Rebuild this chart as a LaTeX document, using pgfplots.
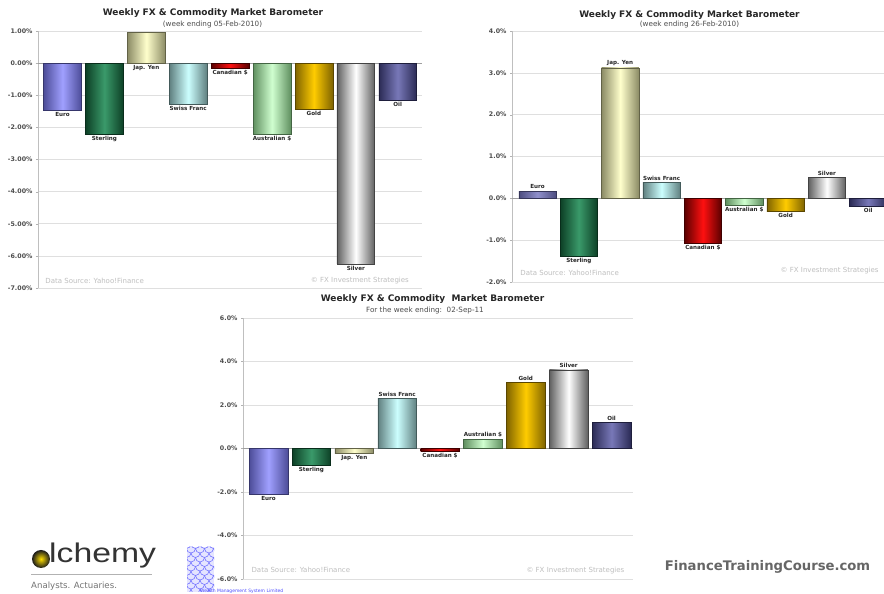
\documentclass[border=0pt]{standalone}
\usepackage{fontspec}
\setmainfont{DejaVu Sans}
\newfontfamily\libsans{Liberation Sans}
\usepackage{graphicx}
\usepackage{pgfplots}
\pgfplotsset{compat=1.18}

\definecolor{eurD}{HTML}{4D4D99}\definecolor{eurL}{HTML}{A0A0FF}
\definecolor{eur2D}{HTML}{4D4D80}\definecolor{eur2L}{HTML}{9090CC}
\definecolor{stgD}{HTML}{0D4026}\definecolor{stgL}{HTML}{3A9A6A}
\definecolor{yenD}{HTML}{8C8C66}\definecolor{yenL}{HTML}{FFFFCC}
\definecolor{chfD}{HTML}{608080}\definecolor{chfL}{HTML}{CCFFFF}
\definecolor{cadD}{HTML}{5A0000}\definecolor{cadL}{HTML}{FF1010}
\definecolor{audD}{HTML}{609060}\definecolor{audL}{HTML}{D0FFD0}
\definecolor{gldD}{HTML}{806400}\definecolor{gldL}{HTML}{FFCC00}
\definecolor{slvD}{HTML}{606060}\definecolor{slvL}{HTML}{FFFFFF}
\definecolor{oilD}{HTML}{2B2B55}\definecolor{oilL}{HTML}{7878B8}

% #1 dark colour, #2 light colour, #3 x, #4 value, #5 label
\newcommand{\cbar}[5]{%
\addplot[ybar, bar width=0.9, bar shift=0pt, draw=#1!70!black, line width=0.4pt,
  left color=#1, right color=#1, middle color=#2,
  nodes near coords={#5}] coordinates {(#3,#4)};}

\pgfplotsset{baro/.style={
  scale only axis, anchor=south west,
  axis y line*=left, axis x line=none,
  xtick=\empty,
  ymajorgrids, major grid style={gray!25, line width=0.5pt},
  tick align=outside, major tick length=2pt,
  y axis line style={gray!50},
  ytick style={gray!60},
  yticklabel style={font=\bfseries\fontsize{6.3}{7}\selectfont, text=black!70},
  extra y ticks={0}, extra y tick labels={},
  extra y tick style={grid=major, major grid style={gray!75, line width=0.6pt}},
  every node near coord/.append style={font=\bfseries\fontsize{5.6}{6.5}\selectfont, text=black!85, inner sep=2pt},
  clip=true,
}}

\begin{document}
\begin{tikzpicture}
\useasboundingbox (0,0) rectangle (884pt,594pt);
\fill[white] (0,0) rectangle (884pt,594pt);

% ---------------- Chart 1 ----------------
\begin{axis}[baro, at={(38pt,306pt)}, width=384pt, height=257pt,
  xmin=-0.585, xmax=8.58, ymin=-7, ymax=1,
  ytick={-7,-6,-5,-4,-3,-2,-1,0,1},
  yticklabels={-7.00\%,-6.00\%,-5.00\%,-4.00\%,-3.00\%,-2.00\%,-1.00\%,0.00\%,1.00\%}]
\cbar{eurD}{eurL}{0}{-1.47}{Euro}
\cbar{stgD}{stgL}{1}{-2.22}{Sterling}
\addplot[ybar, bar width=0.9, bar shift=0pt, draw=yenD!70!black, line width=0.4pt,
  left color=yenD, right color=yenD, middle color=yenL] coordinates {(2,0.96)};
\addplot[ybar, bar width=0.9, bar shift=0pt, draw=none, fill=none,
  nodes near coords={Jap. Yen}, nodes near coords align={below}] coordinates {(2,0)};
\cbar{chfD}{chfL}{3}{-1.28}{Swiss Franc}
\cbar{cadD}{cadL}{4}{-0.15}{Canadian \$}
\cbar{audD}{audL}{5}{-2.22}{Australian \$}
\cbar{gldD}{gldL}{6}{-1.44}{Gold}
\cbar{slvD}{slvL}{7}{-6.25}{Silver}
\cbar{oilD}{oilL}{8}{-1.16}{Oil}
\node[anchor=west, font=\fontsize{7}{8}\selectfont, text=gray!50] at (rel axis cs:0.01,0.027) {Data Source: Yahoo!Finance};
\node[anchor=east, font=\fontsize{7}{8}\selectfont, text=gray!50] at (rel axis cs:0.975,0.027) {\textcopyright\ FX Investment Strategies};
\end{axis}

% ---------------- Chart 2 ----------------
\begin{axis}[baro, at={(512pt,312pt)}, width=372pt, height=251pt,
  xmin=-0.617, xmax=8.38, ymin=-2, ymax=4,
  ytick={-2,-1,0,1,2,3,4},
  yticklabels={-2.0\%,-1.0\%,0.0\%,1.0\%,2.0\%,3.0\%,4.0\%}]
\cbar{eur2D}{eur2L}{0}{0.17}{Euro}
\cbar{stgD}{stgL}{1}{-1.38}{Sterling}
\cbar{yenD}{yenL}{2}{3.12}{Jap. Yen}
\cbar{chfD}{chfL}{3}{0.38}{Swiss Franc}
\cbar{cadD}{cadL}{4}{-1.08}{Canadian \$}
\cbar{audD}{audL}{5}{-0.17}{Australian \$}
\cbar{gldD}{gldL}{6}{-0.31}{Gold}
\cbar{slvD}{slvL}{7}{0.50}{Silver}
\cbar{oilD}{oilL}{8}{-0.19}{Oil}
\node[anchor=west, font=\fontsize{7}{8}\selectfont, text=gray!50] at (rel axis cs:0.013,0.036) {Data Source: Yahoo!Finance};
\node[anchor=east, font=\fontsize{7}{8}\selectfont, text=gray!50] at (rel axis cs:0.995,0.044) {\textcopyright\ FX Investment Strategies};
\end{axis}

% ---------------- Chart 3 ----------------
\begin{axis}[baro, at={(243pt,15pt)}, width=390pt, height=261pt,
  xmin=-0.595, xmax=8.5, ymin=-6, ymax=6,
  ytick={-6,-4,-2,0,2,4,6},
  yticklabels={-6.0\%,-4.0\%,-2.0\%,0.0\%,2.0\%,4.0\%,6.0\%}]
\cbar{eurD}{eurL}{0}{-2.10}{Euro}
\cbar{stgD}{stgL}{1}{-0.78}{Sterling}
\cbar{yenD}{yenL}{2}{-0.23}{Jap. Yen}
\cbar{chfD}{chfL}{3}{2.30}{Swiss Franc}
\cbar{cadD}{cadL}{4}{-0.14}{Canadian \$}
\cbar{audD}{audL}{5}{0.41}{Australian \$}
\cbar{gldD}{gldL}{6}{3.03}{Gold}
\cbar{slvD}{slvL}{7}{3.62}{Silver}
\cbar{oilD}{oilL}{8}{1.19}{Oil}
\node[anchor=west, font=\fontsize{7}{8}\selectfont, text=gray!50] at (rel axis cs:0.013,0.034) {Data Source: Yahoo!Finance};
\node[anchor=east, font=\fontsize{7}{8}\selectfont, text=gray!50] at (rel axis cs:0.987,0.034) {\textcopyright\ FX Investment Strategies};
\end{axis}

\begin{scope}[x=1pt,y=1pt]
% titles
\node[font=\bfseries\fontsize{9}{10}\selectfont, text=black!85] at (213,581) {Weekly FX \& Commodity Market Barometer};
\node[font=\fontsize{7.2}{8}\selectfont, text=black!70] at (212.5,569) {(week ending 05-Feb-2010)};
\node[font=\bfseries\fontsize{9}{10}\selectfont, text=black!85] at (689.5,579) {Weekly FX \& Commodity Market Barometer};
\node[font=\fontsize{7.2}{8}\selectfont, text=black!70] at (689.5,569) {(week ending 26-Feb-2010)};
\node[font=\bfseries\fontsize{9}{10}\selectfont, text=black!85] at (432.5,295) {Weekly FX \& Commodity\ \ Market Barometer};
\node[font=\fontsize{7.2}{8}\selectfont, text=black!70] at (425,283) {For the week ending:\ \ 02-Sep-11};

% FinanceTrainingCourse.com
\node[font=\bfseries\fontsize{13.2}{15}\selectfont, text=black!60] at (767.5,27) {FinanceTrainingCourse.com};

% alchemy logo
\shade[inner color=yellow!75!orange, outer color=black!90] (41,35) circle (9);
\node[anchor=south west, inner sep=0pt, text=black!80] at (49,26) {\scalebox{1.25}[1]{\libsans\fontsize{27}{30}\selectfont lchemy}};
\draw[gray!60, line width=0.6pt] (31,20) -- (152,20);
\node[anchor=west, inner sep=0pt, text=black!55, font=\fontsize{8.6}{10}\selectfont] at (31,8) {Analysts. Actuaries.};

% blue pattern logo
\begin{scope}
\clip (187,2) rectangle (214,47);
\fill[blue!10] (187,2) rectangle (214,47);
\foreach \j in {0,...,10}{
  \foreach \i in {0,...,3}{
    \draw[blue!55, line width=0.6pt] ({182+\i*9+mod(\j,2)*4.5}, {50-\j*4.5}) arc (180:360:4.5);
  }}
\end{scope}
\node[anchor=west, inner sep=0pt, text=blue!70, font=\fontsize{4.5}{5}\selectfont] at (200,3) {Wealth Management System Limited};
\end{scope}
\end{tikzpicture}
\end{document}
